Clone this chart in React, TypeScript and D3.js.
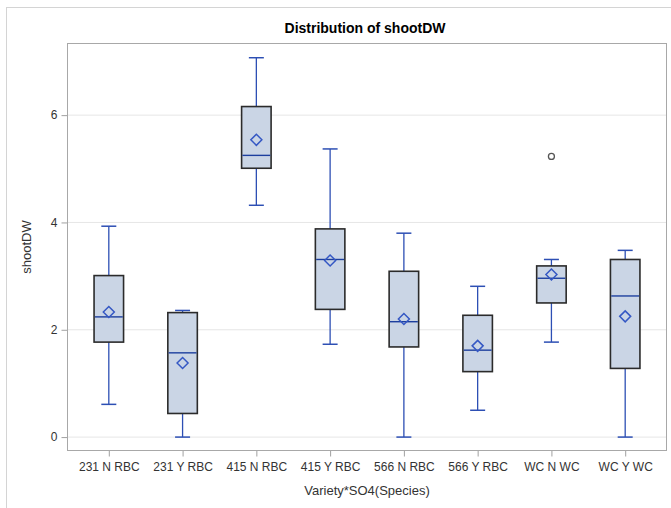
/** @format */

import React, { useEffect, useRef } from 'react';
import * as d3 from 'd3';

// --- Data ---
const categories = [
	'231 N RBC',
	'231 Y RBC',
	'415 N RBC',
	'415 Y RBC',
	'566 N RBC',
	'566 Y RBC',
	'WC N WC',
	'WC Y WC',
];
const whiskerLow = [0.61, 0.0, 4.32, 1.73, 0.0, 0.5, 1.77, 0.0];
const q1 = [1.77, 0.44, 5.01, 2.38, 1.68, 1.22, 2.5, 1.28];
const median = [2.24, 1.57, 5.25, 3.31, 2.15, 1.62, 2.96, 2.63];
const q3 = [3.01, 2.32, 6.16, 3.88, 3.09, 2.27, 3.19, 3.31];
const whiskerHigh = [3.93, 2.36, 7.07, 5.37, 3.8, 2.81, 3.31, 3.48];
const means = [2.33, 1.38, 5.54, 3.29, 2.2, 1.7, 3.03, 2.25];
const outliers = [[], [], [], [], [], [], [5.23], []];
const yTicks = [0, 2, 4, 6];

const W = 671;
const H = 508;

const App: React.FC = () => {
	const ref = useRef<SVGSVGElement>(null);

	const frame = { left: 67.5, right: 666.5, top: 43.5, bottom: 450.5 };

	useEffect(() => {
		if (!ref.current) return;
		const svg = d3.select(ref.current);
		svg.selectAll('*').remove();

		const font = "'Liberation Sans', Arial, sans-serif";

		// outer graph border
		svg
			.append('rect')
			.attr('x', 6.5)
			.attr('y', 7.5)
			.attr('width', W + 40)
			.attr('height', H + 40)
			.attr('fill', 'none')
			.attr('stroke', '#d4d4d4');

		// --- Scales ---
		const xScale = d3
			.scalePoint<string>()
			.domain(categories)
			.range([frame.left, frame.right])
			.padding(0.56);

		const yScale = d3
			.scaleLinear()
			.domain([-0.25, 7.335])
			.range([frame.bottom, frame.top]);

		// grid lines
		svg
			.append('g')
			.selectAll('line')
			.data(yTicks)
			.enter()
			.append('line')
			.attr('x1', frame.left)
			.attr('x2', frame.right)
			.attr('y1', (d) => yScale(d))
			.attr('y2', (d) => yScale(d))
			.attr('stroke', '#e6e6e6')
			.attr('stroke-width', 1);

		// --- Axes ---
		const yAxis = d3
			.axisLeft(yScale)
			.tickValues(yTicks)
			.tickSize(6)
			.tickPadding(4)
			.tickSizeOuter(0);
		const gy = svg
			.append('g')
			.attr('transform', `translate(${frame.left},0)`)
			.call(yAxis);
		gy.select('.domain').remove();
		gy.selectAll('line').attr('stroke', '#a0a0a0');
		gy.selectAll('text')
			.attr('fill', '#333')
			.style('font-family', font)
			.style('font-size', '12px');

		const xAxis = d3.axisBottom(xScale).tickSize(6).tickPadding(6).tickSizeOuter(0);
		const gx = svg
			.append('g')
			.attr('transform', `translate(0,${frame.bottom})`)
			.call(xAxis);
		gx.select('.domain').remove();
		gx.selectAll('line').attr('stroke', '#a0a0a0');
		gx.selectAll('text')
			.attr('fill', '#333')
			.style('font-family', font)
			.style('font-size', '12px');

		// --- Boxes ---
		const boxW = 29.5;
		const capW = 15;
		const blue = '#2d4fb4';
		const rows = categories.map((c, i) => ({
			c,
			lo: whiskerLow[i],
			q1: q1[i],
			med: median[i],
			q3: q3[i],
			hi: whiskerHigh[i],
			mean: means[i],
			out: outliers[i],
		}));

		const g = svg.append('g').selectAll('g').data(rows).enter().append('g');

		// whiskers
		g.append('line')
			.attr('x1', (d) => xScale(d.c)!)
			.attr('x2', (d) => xScale(d.c)!)
			.attr('y1', (d) => yScale(d.hi))
			.attr('y2', (d) => yScale(d.q3))
			.attr('stroke', blue)
			.attr('stroke-width', 1.3);
		g.append('line')
			.attr('x1', (d) => xScale(d.c)!)
			.attr('x2', (d) => xScale(d.c)!)
			.attr('y1', (d) => yScale(d.q1))
			.attr('y2', (d) => yScale(d.lo))
			.attr('stroke', blue)
			.attr('stroke-width', 1.3);
		['hi', 'lo'].forEach((k) => {
			g.append('line')
				.attr('x1', (d) => xScale(d.c)! - capW / 2)
				.attr('x2', (d) => xScale(d.c)! + capW / 2)
				.attr('y1', (d: any) => yScale(d[k]))
				.attr('y2', (d: any) => yScale(d[k]))
				.attr('stroke', blue)
				.attr('stroke-width', 1.5);
		});

		// box
		g.append('rect')
			.attr('x', (d) => xScale(d.c)! - boxW / 2)
			.attr('width', boxW)
			.attr('y', (d) => yScale(d.q3))
			.attr('height', (d) => yScale(d.q1) - yScale(d.q3))
			.attr('fill', '#cad5e5')
			.attr('stroke', '#2b2b2b')
			.attr('stroke-width', 1.6);

		// median
		g.append('line')
			.attr('x1', (d) => xScale(d.c)! - boxW / 2 + 0.8)
			.attr('x2', (d) => xScale(d.c)! + boxW / 2 - 0.8)
			.attr('y1', (d) => yScale(d.med))
			.attr('y2', (d) => yScale(d.med))
			.attr('stroke', '#1d3f9e')
			.attr('stroke-width', 1.4);

		// mean diamond
		const dm = 5.5;
		g.append('path')
			.attr('d', (d) => {
				const cx = xScale(d.c)!;
				const cy = yScale(d.mean);
				return `M${cx},${cy - dm}L${cx + dm},${cy}L${cx},${cy + dm}L${cx - dm},${cy}Z`;
			})
			.attr('fill', 'none')
			.attr('stroke', '#3558c4')
			.attr('stroke-width', 1.5);

		// outliers
		g.selectAll('circle')
			.data((d) => d.out.map((v) => ({ c: d.c, v })))
			.enter()
			.append('circle')
			.attr('cx', (d) => xScale(d.c)!)
			.attr('cy', (d) => yScale(d.v))
			.attr('r', 3)
			.attr('fill', 'none')
			.attr('stroke', '#555')
			.attr('stroke-width', 1.3);

		// frame
		svg
			.append('rect')
			.attr('x', frame.left)
			.attr('y', frame.top)
			.attr('width', frame.right - frame.left)
			.attr('height', frame.bottom - frame.top)
			.attr('fill', 'none')
			.attr('stroke', '#a8a8a8')
			.attr('stroke-width', 1);

		// titles
		svg
			.append('text')
			.attr('x', 365)
			.attr('y', 33)
			.attr('text-anchor', 'middle')
			.style('font-family', font)
			.style('font-size', '14px')
			.style('font-weight', 'bold')
			.attr('fill', '#000')
			.text('Distribution of shootDW');

		svg
			.append('text')
			.attr('x', (frame.left + frame.right) / 2)
			.attr('y', 495)
			.attr('text-anchor', 'middle')
			.style('font-family', font)
			.style('font-size', '13px')
			.attr('fill', '#333')
			.text('Variety*SO4(Species)');

		svg
			.append('text')
			.attr('transform', `translate(31,${(frame.top + frame.bottom) / 2}) rotate(-90)`)
			.attr('text-anchor', 'middle')
			.style('font-family', font)
			.style('font-size', '13px')
			.attr('fill', '#333')
			.text('shootDW');
	}, []);

	return (
		<svg
			ref={ref}
			width={W}
			height={H}
			style={{ position: 'absolute', left: 0, top: 0, background: '#fff' }}
		/>
	);
};

export default App;
